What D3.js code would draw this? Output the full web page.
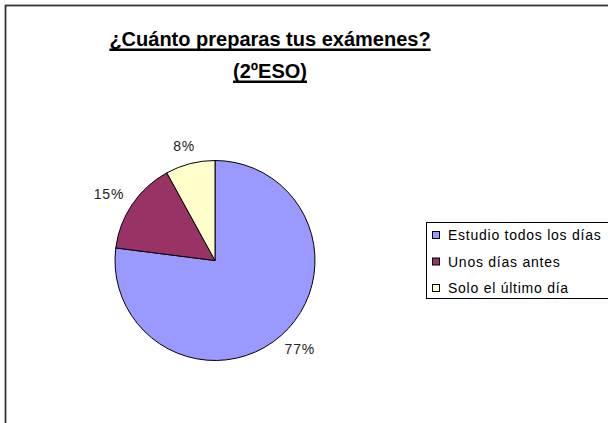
<!DOCTYPE html>
<html>
<head>
<meta charset="utf-8">
<script src="https://cdn.jsdelivr.net/npm/d3@7"></script>
<style>
  body { margin: 0; background: #fff; }
  text { font-family: "Liberation Sans", Arial, sans-serif; }
</style>
</head>
<body>
<div id="chart"></div>
<script>
// Chart data
const categories = ["Estudio todos los días", "Unos días antes", "Solo el último día"];
const values = [77, 15, 8];
const colors = ["#9999FF", "#993366", "#FFFFCC"];
const titleLines = ["¿Cuánto preparas tus exámenes?", "(2ºESO)"];

const width = 608, height = 423;

const svg = d3.select("#chart")
    .append("svg")
        .attr("width", width)
        .attr("height", height);

// Outer chart border (runs off the right and bottom edges)
svg.append("rect")
    .attr("x", 5.5)
    .attr("y", 5.5)
    .attr("width", 640)
    .attr("height", 440)
    .attr("fill", "none")
    .attr("stroke", "#333")
    .attr("stroke-width", 1.8);

// Title, with a thick underline drawn under each line
const title = svg.append("g");
title.selectAll("text")
    .data(titleLines)
    .enter()
    .append("text")
        .attr("x", 270)
        .attr("y", (d, i) => 46 + i * 32)
        .attr("text-anchor", "middle")
        .attr("font-size", 20)
        .attr("font-weight", "bold")
        .attr("fill", "#000")
        .text(d => d)
        .each(function(d, i) {
            const w = this.getComputedTextLength();
            title.append("rect")
                .attr("x", 270 - w / 2)
                .attr("y", 46 + i * 32 + 2.5)
                .attr("width", w)
                .attr("height", 2.5)
                .attr("fill", "#000");
        });

// Pie
const radius = 100;
const g = svg.append("g")
    .attr("transform", "translate(215,260.5)");

const pie = d3.pie().sort(null).value(d => d);
const arcs = pie(values);
const arc = d3.arc().innerRadius(0).outerRadius(radius);

g.selectAll("path")
    .data(arcs)
    .enter()
    .append("path")
        .attr("d", arc)
        .attr("fill", (d, i) => colors[i])
        .attr("stroke", "#000")
        .attr("stroke-width", 1);

// Percentage labels, pushed out so the box sits outside the pie
const total = d3.sum(values);
const labelR = 113;
g.selectAll("text")
    .data(arcs)
    .enter()
    .append("text")
        .attr("text-anchor", "middle")
        .attr("dy", "0.35em")
        .attr("font-size", 14)
        .attr("letter-spacing", 0.8)
        .attr("fill", "#222")
        .text(d => Math.round(d.value / total * 100) + "%")
        .each(function(d) {
            const a = (d.startAngle + d.endAngle) / 2;
            const w = this.getComputedTextLength();
            const x = labelR * Math.sin(a) + Math.sin(a) * w / 2;
            const y = -labelR * Math.cos(a) - Math.cos(a) * 5;
            d3.select(this).attr("transform", "translate(" + x + "," + y + ")");
        });

// Legend
const legend = svg.append("g")
    .attr("transform", "translate(426.5,222.5)");

legend.append("rect")
    .attr("width", 200)
    .attr("height", 76)
    .attr("fill", "#fff")
    .attr("stroke", "#000")
    .attr("stroke-width", 1);

const items = legend.selectAll("g.item")
    .data(categories)
    .enter()
    .append("g")
        .attr("class", "item")
        .attr("transform", (d, i) => "translate(0," + (12.5 + i * 26.5) + ")");

items.append("rect")
    .attr("x", 6)
    .attr("y", -3.5)
    .attr("width", 7)
    .attr("height", 7)
    .attr("fill", (d, i) => colors[i])
    .attr("stroke", "#000")
    .attr("stroke-width", 1);

items.append("text")
    .attr("x", 21.5)
    .attr("dy", "0.36em")
    .attr("font-size", 14)
    .attr("letter-spacing", 0.75)
    .attr("fill", "#000")
    .text(d => d);
</script>
</body>
</html>
